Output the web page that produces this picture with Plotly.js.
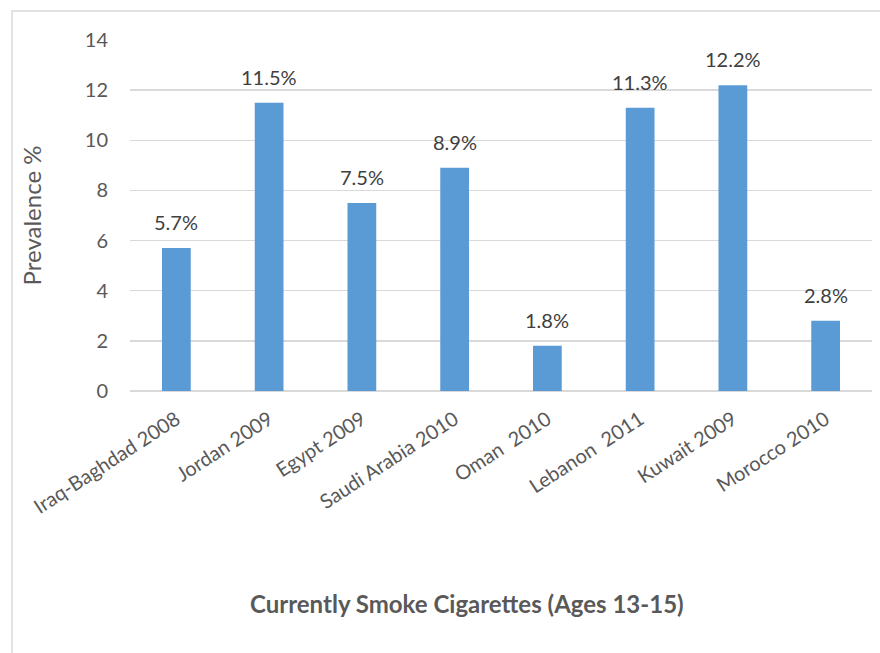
<!DOCTYPE html>
<html>
<head>
<meta charset="utf-8">
<script src="https://cdn.plot.ly/plotly-3.0.1.min.js"></script>
<style>
  html, body { margin: 0; padding: 0; background: #ffffff; }
  #chart { width: 880px; height: 653px; }
</style>
</head>
<body>
<div id="chart"></div>
<script>
// Survey sites and current cigarette smoking prevalence (%), ages 13-15
const countries = [
  "Iraq-Baghdad 2008", "Jordan 2009", "Egypt 2009", "Saudi Arabia 2010",
  "Oman  2010", "Lebanon  2011", "Kuwait 2009", "Morocco 2010"
];
const prevalence = [5.7, 11.5, 7.5, 8.9, 1.8, 11.3, 12.2, 2.8];
const yTicks = [0, 2, 4, 6, 8, 10, 12, 14];

const font = "Lato, 'Open Sans', sans-serif";
const textGrey = "#595959";

const trace = {
  type: "bar",
  x: countries,
  y: prevalence,
  marker: { color: "#5B9BD5" },
  hoverinfo: "x+y"
};

// Value labels above each bar, built from the same values
const valueLabels = countries.map((c, i) => ({
  x: c,
  y: prevalence[i],
  xref: "x",
  yref: "y",
  text: prevalence[i].toFixed(1) + "%",
  showarrow: false,
  yanchor: "bottom",
  yshift: 12,
  font: { family: font, size: 20, color: "#404040" }
}));

const layout = {
  width: 880,
  height: 653,
  margin: { l: 130, r: 8, t: 40, b: 262 },
  paper_bgcolor: "#ffffff",
  plot_bgcolor: "#ffffff",
  showlegend: false,
  bargap: 0.69,
  font: { family: font, color: textGrey },
  xaxis: {
    type: "category",
    tickangle: -33,
    tickfont: { family: font, size: 20, color: textGrey },
    ticklabelstandoff: 12,
    showgrid: false,
    showline: false,
    ticks: "",
    automargin: false
  },
  yaxis: {
    range: [0, 14],
    tickvals: yTicks,
    tickfont: { family: font, size: 20, color: textGrey },
    ticklabelstandoff: 21,
    showgrid: true,
    gridcolor: "#D9D9D9",
    gridwidth: 1.5,
    zeroline: true,
    zerolinecolor: "#D9D9D9",
    zerolinewidth: 1.5,
    showline: false,
    ticks: "",
    automargin: false,
    title: {
      text: "Prevalence %",
      font: { family: font, size: 24, color: textGrey },
      standoff: 36
    }
  },
  annotations: valueLabels.concat([{
    xref: "paper", yref: "paper",
    x: (467 - 130) / 742, y: (391 - 603) / 351,
    xanchor: "center", yanchor: "middle",
    showarrow: false,
    text: "<b>Currently Smoke Cigarettes (Ages 13-15)</b>",
    font: { family: font, size: 24, color: textGrey }
  }]),
  shapes: [{
    type: "rect",
    xref: "paper", yref: "paper",
    x0: -0.159, x1: 2, y0: -2, y1: 1.0826,
    line: { color: "#D9D9D9", width: 1.5 },
    fillcolor: "rgba(0,0,0,0)",
    layer: "below"
  }]
};

Plotly.newPlot("chart", [trace], layout, { displayModeBar: false, staticPlot: true });
</script>
</body>
</html>
